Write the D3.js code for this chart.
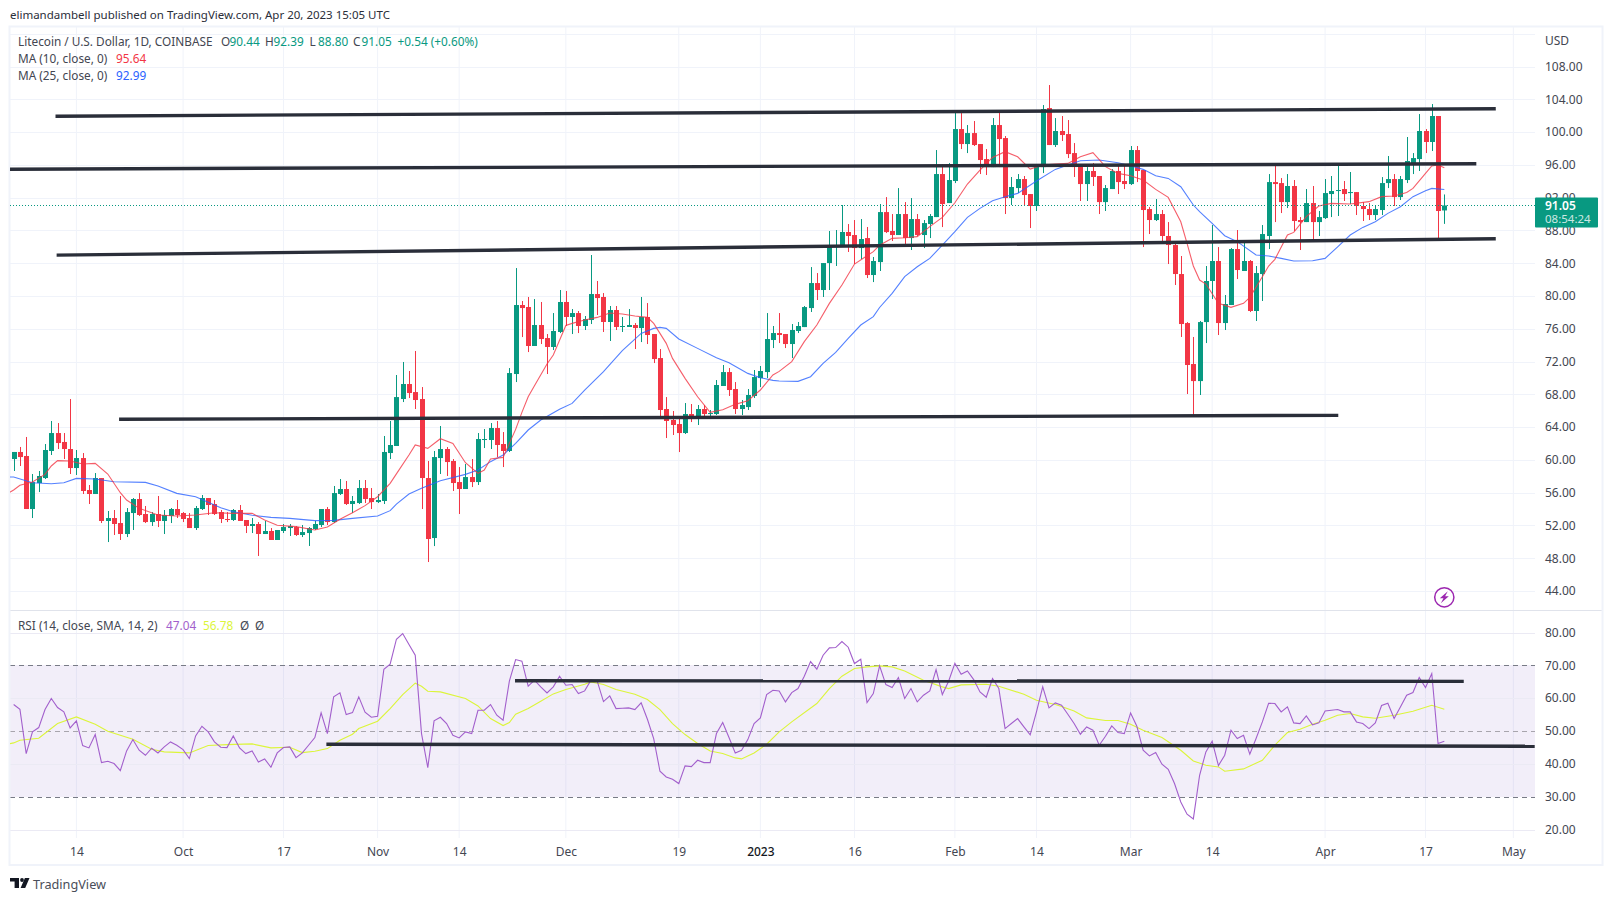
<!DOCTYPE html>
<html><head><meta charset="utf-8">
<script src="https://cdn.jsdelivr.net/npm/d3@7/dist/d3.min.js"></script>
<style>html,body{margin:0;background:#fff}svg{display:block}text{font-family:"Noto Sans",sans-serif}</style>
</head><body><svg id="c" width="1613" height="901"></svg>
<script>
const firstDay = "2022-09-04";
const opens = [60.11,60.97,60.48,54.01,57.18,57.79,61.09,63.28,62.19,61.33,
59.01,60.23,56.33,55.84,57.79,52.55,52.91,52.30,50.96,53.52,
55.23,53.40,52.42,53.40,52.55,53.16,54.01,53.52,52.91,51.69,
54.01,55.35,54.62,53.64,52.79,52.67,53.89,52.67,51.94,52.18,
50.96,51.33,50.23,51.33,51.69,51.81,50.84,51.08,51.57,52.06,
54.01,52.42,55.84,56.45,54.62,54.74,56.57,55.35,54.86,54.99,
60.84,61.70,67.43,69.26,68.28,67.43,57.79,50.47,60.23,61.33,
59.87,57.30,56.45,57.91,57.30,62.43,62.43,63.89,61.94,61.09,
70.48,78.90,78.66,73.90,76.46,74.87,73.78,75.61,79.27,77.44,
77.92,76.34,77.07,80.24,79.88,76.83,78.29,76.22,76.22,76.46,
76.09,77.44,75.36,72.43,66.21,64.87,64.38,63.28,65.60,65.23,
66.21,65.60,65.60,69.02,70.72,68.65,66.21,66.45,67.80,69.99,
70.72,74.63,75.48,75.36,74.14,75.73,76.21,78.53,81.58,80.73,
84.02,85.98,86.10,87.81,87.44,85.85,87.07,82.56,84.14,90.24,
87.93,87.44,90.00,87.07,89.39,87.44,88.78,89.63,94.88,91.34,
94.03,100.37,98.54,99.88,98.54,96.71,95.73,100.86,99.27,91.95,
93.17,94.27,92.44,90.98,95.73,102.93,98.42,100.13,99.76,97.44,
95.86,93.66,95.25,94.64,91.46,93.05,95.25,94.03,
93.66,97.81,95.37,90.61,89.27,90.00,87.32,86.22,82.68,76.70,
71.70,69.62,76.82,81.83,84.27,76.70,78.90,85.73,83.05,84.27,
78.17,82.68,87.32,93.90,93.78,91.46,93.42,89.27,89.02,91.34,
89.02,89.51,92.44,92.81,93.05,92.56,92.68,90.98,90.61,89.88,90.49,93.78,94.27,92.07,94.15,96.22,96.71,100.13,98.79,101.96,90.44];
const highs = [60.97,61.58,62.80,58.28,58.65,61.94,64.75,64.50,63.28,67.43,
61.21,60.84,56.94,58.40,57.79,53.77,53.89,55.60,54.13,55.35,
55.96,54.38,53.64,55.60,53.89,54.13,55.11,53.64,53.52,54.38,
55.72,55.35,55.11,53.89,53.64,54.01,54.50,52.67,52.91,52.42,
52.55,51.69,51.45,52.18,52.18,51.94,52.06,51.81,52.55,54.01,
54.25,56.82,57.67,57.43,55.60,57.55,57.55,56.57,55.84,62.92,
64.75,70.36,71.95,70.85,73.29,68.89,59.87,61.09,64.14,61.57,
60.11,59.13,59.50,60.11,63.28,63.77,64.50,64.75,63.40,71.21,
83.41,79.39,79.88,79.63,79.27,75.36,77.92,80.73,80.61,78.41,
78.17,77.56,85.00,81.83,80.36,78.78,78.78,77.44,78.41,76.70,
79.88,79.14,75.36,73.53,67.67,65.97,65.11,66.94,66.82,66.70,
66.70,66.09,69.75,71.58,71.21,69.50,67.31,68.65,70.97,71.46,
77.92,76.34,77.92,75.36,76.58,76.83,78.78,83.53,82.80,84.02,
87.93,88.05,91.10,88.78,89.27,89.39,88.42,84.76,91.22,92.07,
90.00,93.17,91.46,91.95,90.00,89.27,90.00,97.81,96.10,96.22,
102.69,102.32,100.86,101.35,98.54,97.93,101.71,102.45,99.52,94.52,
94.88,94.64,92.44,95.98,103.30,105.74,101.71,101.96,101.47,98.66,
95.86,95.73,96.22,94.64,93.54,95.49,96.10,95.98,
98.30,98.30,95.37,90.85,91.83,90.49,89.02,86.71,84.88,76.82,
75.00,76.95,83.66,88.66,85.97,80.12,85.85,88.05,86.71,84.39,
83.66,88.66,94.88,96.10,94.39,94.88,94.15,89.63,93.05,93.42,
90.37,94.27,94.64,95.86,94.03,95.13,92.68,91.46,91.34,91.10,94.51,97.08,94.88,94.64,99.40,97.44,102.20,100.37,103.42,101.96,92.39];
const lows = [58.65,59.26,54.01,52.91,56.08,57.67,60.60,61.33,60.11,58.28,
58.16,55.84,54.62,55.84,52.30,49.98,50.84,50.23,50.59,51.45,
53.16,52.30,51.94,51.81,50.96,52.30,52.91,52.42,51.69,51.45,
53.89,53.28,53.28,52.30,52.42,52.55,52.55,51.08,51.08,48.28,
50.96,50.23,50.23,51.08,50.72,50.72,50.59,49.50,51.45,51.81,
52.06,52.30,55.72,54.50,53.52,54.62,54.74,54.01,54.74,54.62,
60.11,61.70,67.06,67.55,66.21,54.01,47.54,49.49,58.28,58.04,
56.21,53.40,56.45,56.69,56.94,61.45,61.33,60.35,59.13,60.96,
69.50,74.99,73.16,73.90,74.14,70.48,73.41,75.48,76.34,75.36,
75.48,75.85,76.58,77.68,75.61,74.51,75.85,75.61,76.22,73.53,
74.38,74.14,71.82,64.99,62.67,63.04,60.96,63.16,64.62,64.26,
64.99,64.99,65.48,69.02,67.80,65.60,65.48,66.09,67.55,68.89,
69.99,73.65,74.26,73.65,72.43,75.48,76.21,78.05,79.51,79.88,
80.73,83.66,85.98,85.37,83.90,84.51,82.19,81.70,83.05,87.68,
86.71,87.44,86.10,85.61,87.32,85.85,87.07,89.63,88.41,91.34,
93.78,97.93,97.44,98.30,94.88,94.76,95.73,95.73,90.00,91.10,
92.56,91.10,88.29,90.37,95.00,98.42,98.18,98.91,96.83,94.52,
91.59,91.59,93.42,90.00,90.37,93.05,92.44,93.05,
93.54,93.90,85.97,87.56,89.15,86.71,83.90,81.34,75.00,68.04,
65.35,67.92,74.26,79.63,75.24,75.85,78.90,82.07,83.05,78.04,
76.95,79.39,85.73,89.02,90.12,90.73,87.93,85.61,89.02,86.71,
87.32,89.39,89.63,89.76,91.59,91.22,89.88,89.15,89.27,89.27,89.88,93.17,90.98,91.71,93.78,94.88,95.25,97.44,97.69,87.07,88.80];
const closes = [60.97,60.35,54.01,57.30,58.04,61.21,63.28,62.06,61.33,59.01,
60.23,56.21,55.84,57.79,52.55,52.91,52.18,50.96,53.64,55.23,
53.28,52.42,53.40,52.55,53.28,54.01,53.28,52.79,51.69,54.13,
55.35,54.50,53.40,52.79,52.67,53.89,52.55,51.94,52.18,50.96,
51.33,50.23,51.45,51.81,51.94,50.84,51.20,51.69,52.18,54.01,
52.42,55.96,56.45,54.62,54.99,56.57,55.23,54.86,55.11,60.97,
61.82,67.67,69.26,68.16,67.31,57.79,50.35,60.35,61.33,59.74,
57.18,56.45,57.91,57.30,62.55,62.55,63.89,61.82,61.09,70.60,
78.90,78.53,73.90,76.46,74.75,73.78,75.73,79.27,77.44,77.92,
76.34,77.19,80.24,79.75,76.83,78.29,76.22,76.34,76.46,76.09,
77.44,75.24,72.31,66.09,64.75,64.26,63.28,65.60,65.23,66.21,
65.60,65.72,69.14,70.72,68.53,66.21,66.70,67.92,70.11,70.85,
74.75,75.48,75.24,74.14,75.85,76.34,78.65,81.58,80.73,84.02,
86.10,86.22,87.81,87.32,85.85,86.95,82.56,84.27,90.24,87.80,
87.44,90.00,87.07,89.39,87.44,88.90,89.76,94.88,91.22,94.15,
100.37,98.54,99.88,98.42,96.59,95.86,100.86,99.15,91.95,93.30,
94.27,92.32,90.98,95.86,102.81,98.42,100.13,99.64,97.32,95.73,
93.66,95.25,94.52,91.46,93.17,95.25,93.90,93.66,
97.81,95.25,90.49,89.27,90.00,87.32,86.22,82.68,76.58,71.58,
69.62,76.82,81.83,84.27,76.70,79.02,85.73,83.17,84.27,78.17,
82.80,87.56,93.90,93.66,91.46,93.42,89.15,89.02,91.34,89.02,
89.63,92.56,92.81,92.93,92.44,92.68,90.98,90.61,89.88,90.61,93.78,94.27,92.07,94.27,96.47,96.83,100.13,98.79,101.96,90.37,91.05];

// moving averages read at chosen days (days counted from firstDay)
const ma10Days = [-1,0,1,3,5,6,7,9,11,13,15,17,18,20,23,26,29,32,35,38,40,42,45,48,50,52,54,56,58,60,61,63,64,66,68,70,72,74,75,76,78,79,80,81,82,83,85,86,88,89,91,93,95,97,99,101,102,104,105,107,109,111,113,115,117,119,121,122,124,126,128,130,132,134,136,137,138,140,142,144,146,148,150,152,154,156,158,160,162,164,166,168,170,172,174,176,178,180,182,184,186,187,188,189,190,192,194,196,197,199,200,201,203,204,206,208,210,213,216,218,220,222,223,225,226,227,228];
const ma10 = [55.9,56.33,56.90,57.30,58.24,59.26,59.91,59.87,59.50,59.58,58.28,56.00,55.11,54.09,53.28,53.16,53.28,53.56,53.48,53.48,52.67,52.02,51.86,51.45,51.81,52.75,53.56,54.42,55.51,57.14,58.30,60.60,61.82,61.41,62.59,62.02,59.66,58.36,58.77,60.11,60.31,62.02,63.73,65.80,67.71,69.06,71.70,72.80,76.40,76.66,77.07,77.39,77.92,77.80,77.56,77.39,76.66,74.22,72.39,69.95,67.71,65.80,66.13,66.78,67.23,68.53,70.36,70.80,71.99,74.43,76.46,79.10,81.34,83.90,84.92,85.41,86.20,87.03,87.11,87.24,88.46,89.59,91.38,93.66,95.37,96.91,97.61,96.99,95.49,95.98,96.10,96.18,96.99,97.48,95.78,94.96,94.68,94.15,93.01,92.03,89.06,86.42,83.66,81.95,81.46,79.10,78.61,79.10,79.83,82.36,83.66,84.47,87.44,87.76,89.68,90.98,91.30,91.22,91.51,92.12,92.20,92.64,93.13,94.96,95.86,95.98,95.64];
const ma25Days = [-1,0,3,6,8,10,13,16,21,23,26,29,33,35,38,41,44,48,51,54,58,60,61,63,65,68,72,74,76,78,80,82,84,87,89,91,94,97,100,102,103,104,106,109,112,114,117,119,121,122,125,127,129,131,133,135,137,138,140,142,144,146,148,150,152,154,156,158,160,163,166,168,170,173,176,178,180,182,184,186,188,189,191,193,195,198,200,202,204,207,209,211,213,215,217,219,221,223,225,226,228];
const ma25 = [57.91,57.91,57.22,57.10,57.22,57.75,57.67,57.34,57.26,56.81,55.92,55.51,54.17,53.68,53.24,52.99,52.87,52.59,52.63,52.87,53.16,53.81,54.60,55.84,56.53,57.47,58.24,58.77,59.79,60.60,62.02,63.65,64.87,66.17,66.90,68.53,70.77,73.33,75.44,76.05,76.17,76.05,74.75,73.61,72.47,71.86,70.56,70.03,69.71,69.63,69.59,70.15,71.78,73.12,74.83,76.46,77.48,78.60,80.32,82.36,83.57,84.59,86.22,87.85,89.59,90.69,91.63,92.12,92.52,94.03,95.45,95.98,96.51,96.59,96.26,95.90,95.45,94.68,94.35,93.34,91.10,90.29,88.86,87.36,86.63,85.00,84.88,84.59,84.27,84.31,84.59,86.00,87.44,88.37,89.06,90.08,90.89,92.12,92.85,93.13,92.99];

// RSI: one reading per day from firstDay on
const rsi = [58.23,56.81,43.31,49.91,51.23,56.71,60.06,57.32,56.00,51.13,
53.26,45.75,45.04,49.10,40.57,40.98,40.27,38.13,44.12,47.57,
44.33,42.80,44.93,43.51,45.34,46.86,45.85,44.53,41.79,48.69,
51.63,49.91,46.86,45.24,45.14,48.69,45.04,43.31,44.12,40.77,
41.69,39.15,43.51,45.14,45.34,42.09,43.51,45.85,48.18,55.69,
49.40,60.57,61.78,55.19,55.79,60.57,55.90,54.37,54.68,68.99,
70.51,78.12,79.85,76.50,73.25,49.40,39.05,53.26,54.37,52.44,
48.89,48.08,49.91,49.40,56.50,56.50,58.23,54.98,53.46,65.34,
71.93,71.43,63.81,65.64,63.61,61.78,63.61,66.86,64.12,64.32,
61.58,62.39,65.64,65.34,59.14,60.87,57.01,57.11,57.22,56.71,
58.74,53.76,47.88,37.93,36.20,35.49,34.18,39.55,39.35,41.28,
40.57,40.57,49.40,52.75,48.18,43.51,44.33,47.57,52.45,54.17,
61.28,62.60,62.39,59.04,61.88,63.10,66.86,71.32,68.99,73.25,
75.49,75.59,77.41,75.69,70.72,72.03,58.84,61.58,70.00,64.32,
63.41,66.45,60.06,63.10,59.04,61.07,62.39,68.89,61.28,65.34,
70.82,67.47,68.48,65.84,62.09,60.46,66.15,63.10,50.92,52.45,
53.97,51.43,48.99,56.00,63.61,57.22,58.74,58.03,55.29,52.45,
49.20,51.43,50.42,45.85,48.59,51.73,49.70,49.40,55.69,51.63,
44.33,42.60,43.61,40.06,38.54,34.18,28.59,24.84,23.42,36.71,
43.82,47.07,39.66,42.80,50.42,47.88,48.89,43.11,47.88,52.95,
58.64,58.54,56.00,57.52,52.65,52.45,54.78,52.04,52.65,56.30,
56.50,56.71,56.00,56.00,52.95,52.45,50.92,52.65,57.93,58.64,
53.97,57.52,61.07,61.88,66.45,63.41,67.67,46.35,47.04];
const rsiSmaDays = [-1,0,1,4,7,10,13,15,19,22,24,27,28,31,34,38,41,44,46,48,50,52,54,55,58,60,62,64,65,66,68,72,74,76,78,79,80,82,84,86,88,91,92,94,96,99,101,103,105,107,109,111,113,115,116,118,120,122,124,128,130,132,134,136,138,140,142,145,148,149,151,155,157,161,163,166,167,169,171,174,176,178,180,183,186,188,190,192,193,196,199,201,203,205,207,209,211,213,215,217,220,223,226,228];
const rsiSma = [46.15,46.56,47.37,47.98,52.45,54.47,52.24,50.11,47.67,44.63,43.82,43.61,43.51,45.75,46.05,46.25,45.04,45.24,43.61,44.02,44.83,47.37,49.20,50.92,53.15,57.01,61.28,64.73,63.81,62.29,62.09,60.06,57.82,53.97,51.84,52.75,55.29,57.01,59.25,61.48,62.80,64.42,65.13,64.32,62.80,61.38,59.75,56.71,52.45,49.10,46.36,44.12,43.31,41.99,41.69,43.51,46.15,49.91,52.95,58.54,63.10,66.86,69.19,69.70,70.00,69.70,68.48,65.64,63.61,63.10,64.22,64.42,63.81,61.38,59.55,58.23,57.62,56.30,54.17,53.36,53.36,52.24,50.42,48.18,44.33,41.08,39.76,39.25,37.93,38.64,41.28,45.85,49.70,50.72,52.24,53.46,54.98,55.49,54.48,54.07,54.98,56.20,58.03,56.78];

// drawn trend lines: start day, start value, end day, end value
const priceTrendStartDay = [6.67,-0.58,6.85,16.8];
const priceTrendStartVal = [101.94,95.47,84.99,64.96];
const priceTrendEndDay = [236.2,233.1,236.2,211.1];
const priceTrendEndVal = [102.85,96.14,86.99,65.44];
const rsiTrendStartDay = [79.9,49.84];
const rsiTrendStartVal = [65.5,46.15];
const rsiTrendEndDay = [231.1,242.4];
const rsiTrendEndVal = [65.3,45.54];

const priceTicks = [44,48,52,56,60,64,68,72,76,80,84,88,92,96,100,104,108];
const priceGridOnly = [112];
const rsiTicks = [20,30,40,50,60,70,80];
const rsiGrid = [20,40,60,80];
const timeTickDates = ["2022-09-14","2022-10-01","2022-10-17","2022-11-01","2022-11-14","2022-12-01","2022-12-19","2023-01-01","2023-01-16","2023-02-01","2023-02-14","2023-03-01","2023-03-14","2023-04-01","2023-04-17","2023-05-01"];
const timeTickLabels = ["14","Oct","17","Nov","14","Dec","19","2023","16","Feb","14","Mar","14","Apr","17","May"];
const lastPrice = 91.05, countdown = "08:54:24";

const GREEN="#089981", RED="#f23645", TXT="#434651";
const svg=d3.select("#c");
const L=10,R=1535,PT=27,PB=610,RB=838,PANEL_R=1602.5,PANEL_B=865;
const parse=d3.utcParse("%Y-%m-%d");
const d0=parse(firstDay);
const dayOf=n=>new Date(+d0+n*864e5);
const x=d3.scaleUtc().domain([d0,parse("2023-05-01")]).range([13.65,1513.35]);
const xn=n=>x(dayOf(n));
const y=d3.scaleLinear().domain([44,104]).range([591.06,99.3]);
const yr=d3.scaleLinear().domain([30,80]).range([797.3,633.05]);

const defs=svg.append("defs");
defs.append("clipPath").attr("id","cp").append("rect").attr("x",L).attr("y",PT).attr("width",R-L).attr("height",PB-PT);
defs.append("clipPath").attr("id","cr").append("rect").attr("x",L).attr("y",PB).attr("width",R-L).attr("height",RB-PB);

svg.append("text").attr("x",10).attr("y",19).attr("font-size",11.5).attr("fill","#2a2e39")
  .text("elimandambell published on TradingView.com, Apr 20, 2023 15:05 UTC");

// vertical + horizontal grid
const GRID="#f0f3fa";
svg.append("g").selectAll("line").data(timeTickDates).join("line")
  .attr("x1",d=>x(parse(d))).attr("x2",d=>x(parse(d))).attr("y1",PT).attr("y2",RB).attr("stroke",GRID);
svg.append("g").selectAll("line").data(priceTicks.concat(priceGridOnly)).join("line")
  .attr("x1",L).attr("x2",R).attr("y1",d=>Math.round(y(d))+.5).attr("y2",d=>Math.round(y(d))+.5).attr("stroke",GRID);

// RSI band
svg.append("rect").attr("x",L).attr("width",R-L).attr("y",Math.floor(yr(70))).attr("height",Math.floor(yr(30))-Math.floor(yr(70))).attr("fill","#7e57c2").attr("fill-opacity",.1);
svg.append("g").selectAll("line").data(rsiGrid).join("line")
  .attr("x1",L).attr("x2",R).attr("y1",d=>Math.floor(yr(d))+.5).attr("y2",d=>Math.floor(yr(d))+.5).attr("stroke","#ebeaf4");
svg.append("g").selectAll("line").data([70,50,30]).join("line")
  .attr("x1",L).attr("x2",R).attr("y1",d=>Math.floor(yr(d))+.5).attr("y2",d=>Math.floor(yr(d))+.5)
  .attr("stroke",d=>d==50?"#a8a5ad":"#787b86").attr("stroke-dasharray","5 4");

// pane border
svg.append("line").attr("x1",L).attr("x2",PANEL_R).attr("y1",PB+.5).attr("y2",PB+.5).attr("stroke","#e0e3eb");
svg.append("rect").attr("x",9.5).attr("y",26.5).attr("width",PANEL_R-9.5).attr("height",PANEL_B-26.5).attr("fill","none").attr("stroke","#f0f3fa").attr("stroke-width",2);

// candles
const idx=d3.range(opens.length);
const gc=svg.append("g").attr("clip-path","url(#cp)");
gc.selectAll("line.w").data(idx).join("line").attr("class","w")
  .attr("x1",i=>Math.round(xn(i))+.5).attr("x2",i=>Math.round(xn(i))+.5)
  .attr("y1",i=>y(highs[i])).attr("y2",i=>y(lows[i]))
  .attr("stroke",i=>closes[i]>=opens[i]?GREEN:RED);
gc.selectAll("rect").data(idx).join("rect")
  .attr("x",i=>Math.round(xn(i))-2).attr("width",5)
  .attr("y",i=>y(Math.max(opens[i],closes[i])))
  .attr("height",i=>Math.max(1,Math.abs(y(opens[i])-y(closes[i]))))
  .attr("fill",i=>closes[i]>=opens[i]?GREEN:RED);

// moving averages
const lineOf=(days,vals,sc)=>d3.line().x((d,i)=>xn(days[i])).y(d=>sc(d))(vals);
gc.append("path").attr("d",lineOf(ma25Days,ma25,y)).attr("fill","none").attr("stroke","#2962ff").attr("stroke-opacity",.8).attr("stroke-width",1.1);
gc.append("path").attr("d",lineOf(ma10Days,ma10,y)).attr("fill","none").attr("stroke",RED).attr("stroke-opacity",.8).attr("stroke-width",1.1);

// last price line
svg.append("line").attr("x1",L).attr("x2",R).attr("y1",Math.round(y(lastPrice))+.5).attr("y2",Math.round(y(lastPrice))+.5)
  .attr("stroke",GREEN).attr("stroke-dasharray","1 2");

// RSI lines
const gr=svg.append("g").attr("clip-path","url(#cr)");
gr.append("path").attr("d",lineOf(rsiSmaDays,rsiSma,yr)).attr("fill","none").attr("stroke","#dcf53a").attr("stroke-width",1.1);
gr.append("path").attr("d",d3.line().x((d,i)=>xn(i)).y(d=>yr(d))(rsi)).attr("fill","none").attr("stroke","#a25fcc").attr("stroke-width",1.1);

// trend lines
const tl=svg.append("g").attr("stroke","#2a2e39").attr("stroke-width",3.4);
tl.selectAll("line.p").data(priceTrendStartDay).join("line").attr("class","p")
  .attr("x1",(d,i)=>Math.max(L,xn(d))).attr("y1",(d,i)=>y(priceTrendStartVal[i]))
  .attr("x2",(d,i)=>xn(priceTrendEndDay[i])).attr("y2",(d,i)=>y(priceTrendEndVal[i]));
const tr=svg.append("g").attr("stroke","#2a2e39").attr("stroke-width",3.4).attr("clip-path","url(#cr)");
tr.selectAll("line").data(rsiTrendStartDay).join("line")
  .attr("x1",d=>xn(d)).attr("y1",(d,i)=>yr(rsiTrendStartVal[i]))
  .attr("x2",(d,i)=>xn(rsiTrendEndDay[i])).attr("y2",(d,i)=>yr(rsiTrendEndVal[i]));

// axes
const styleAxis=g=>{g.select(".domain").remove();g.selectAll("text").attr("fill",TXT).attr("font-size",12).attr("font-family",'"Noto Sans",sans-serif');};
svg.append("g").attr("transform",`translate(${R},0)`)
  .call(d3.axisRight(y).tickValues(priceTicks).tickFormat(d3.format(".2f")).tickSize(0).tickPadding(10)).call(styleAxis);
svg.append("g").attr("transform",`translate(${R},-0.7)`)
  .call(d3.axisRight(yr).tickValues(rsiTicks).tickFormat(d3.format(".2f")).tickSize(0).tickPadding(10)).call(styleAxis);
const xa=svg.append("g").attr("transform",`translate(0,${RB})`)
  .call(d3.axisBottom(x).tickValues(timeTickDates.map(parse)).tickFormat((d,i)=>timeTickLabels[i]).tickSize(0).tickPadding(9)).call(styleAxis);
xa.selectAll("text").filter(function(){return this.textContent==="2023"}).attr("fill","#131722").attr("font-weight",500);

svg.append("text").attr("x",1545).attr("y",44.5).attr("font-size",12).attr("fill",TXT).text("USD");

// price badge
const by=y(lastPrice);
svg.append("rect").attr("x",R).attr("y",by-8).attr("width",63).attr("height",30).attr("rx",1).attr("fill",GREEN);
svg.append("text").attr("x",1545).attr("y",by+4.5).attr("font-size",12).attr("font-weight",600).attr("fill","#fff").text(lastPrice.toFixed(2));
svg.append("text").attr("x",1545).attr("y",by+18).attr("font-size",11.5).attr("fill","#fff").attr("fill-opacity",.8).text(countdown);

// legend
const leg=(xp,yp,t,c)=>svg.append("text").attr("x",xp).attr("y",yp).attr("font-size",11.8).attr("fill",c||TXT).text(t);
leg(18,45.5,"Litecoin / U.S. Dollar, 1D, COINBASE");
[["O","90.44",221],["H","92.39",265],["L","88.80",309.5],["C","91.05",353]].forEach(a=>{leg(a[2],45.5,a[0]);leg(a[2]+8.5,45.5,a[1],GREEN);});
leg(397.5,45.5,"+0.54 (+0.60%)",GREEN);
leg(18,62.5,"MA (10, close, 0)");leg(116,62.5,"95.64",RED);
leg(18,79.5,"MA (25, close, 0)");leg(116,79.5,"92.99","#2962ff");
leg(18,630,"RSI (14, close, SMA, 14, 2)");leg(166,630,"47.04","#a25fcc");leg(203,630,"56.78","#dcf53a");leg(240,630,"Ø");leg(255,630,"Ø");

// lightning marker
const ic=svg.append("g").attr("transform","translate(1444.3,597.3)");
ic.append("circle").attr("r",9.6).attr("fill","#fff").attr("stroke","#9c27b0").attr("stroke-width",1.5);
ic.append("path").attr("d","M3.5,-6 L-4.5,1 L-0.8,1 L-3.5,6 L4.5,-1 L0.8,-1 Z").attr("fill","#9c27b0");

// footer logo
const lg=svg.append("g").attr("fill","#131722");
lg.append("path").attr("d","M10,878 H19 V888 H14.6 V881.6 H10 Z M29.5,878 L25.2,888 H20.6 L24.9,878 Z");
lg.append("circle").attr("cx",22).attr("cy",880).attr("r",1.9);
svg.append("text").attr("x",33).attr("y",888.5).attr("font-size",12.7).attr("fill","#4a4e59").text("TradingView");
</script></body></html>
